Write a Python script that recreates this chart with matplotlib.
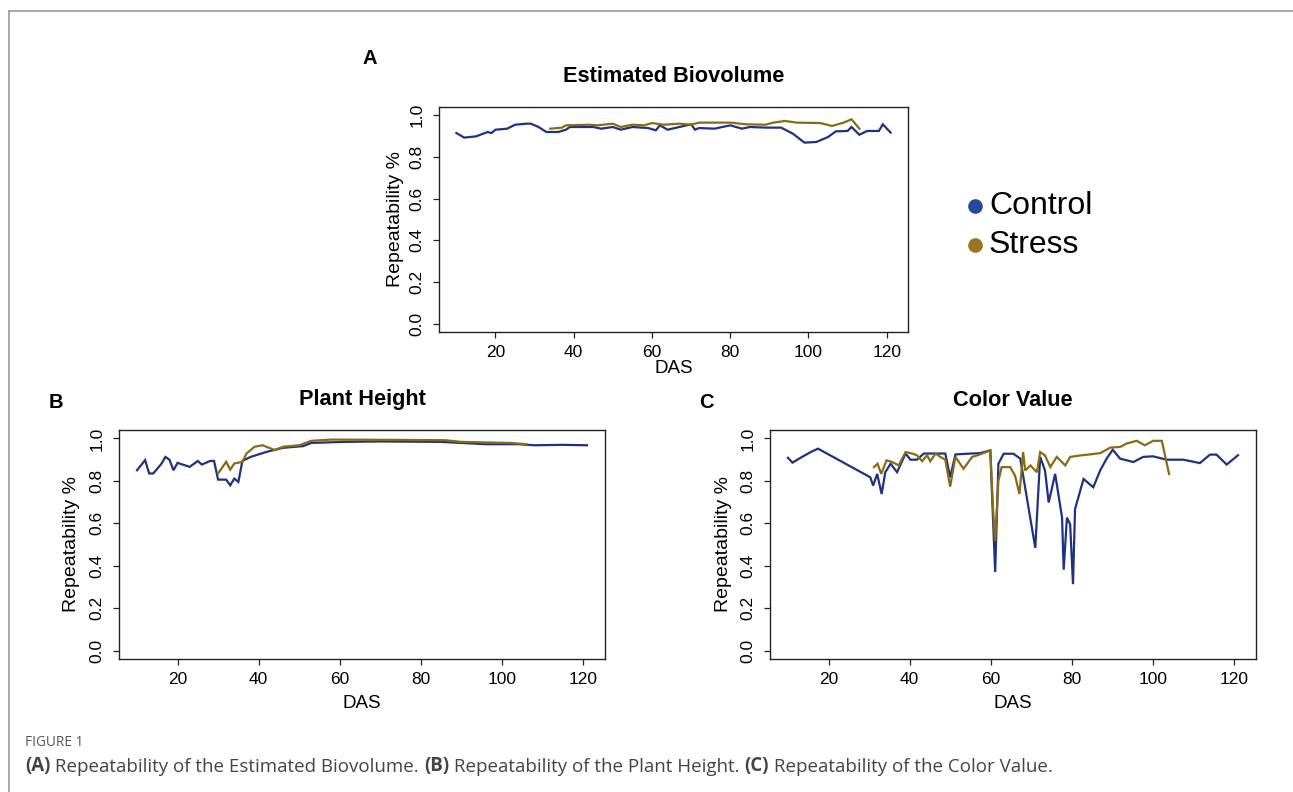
import matplotlib
matplotlib.use("Agg")
import matplotlib.pyplot as plt
from matplotlib.lines import Line2D

# ---------------- data ----------------
# Panel A: Estimated Biovolume
a_ctrl_x = [10, 12, 15, 18, 19, 20, 23, 25, 28, 29, 31, 33, 36, 38, 39, 45, 47, 50, 52, 55,
            59, 61, 62, 64, 67, 70, 71, 72, 76, 80, 83, 85, 89, 93, 96, 99, 102, 105, 107, 110,
            111, 113, 115, 118, 119, 121]
a_ctrl_y = [.915, .893, .899, .920, .915, .931, .936, .955, .960, .960, .944, .920, .920, .931, .944,
            .944, .936, .944, .931, .944, .939, .928, .952, .931, .944, .957, .931, .939, .936, .952,
            .936, .944, .941, .941, .912, .869, .872, .896, .923, .925, .944, .907, .925, .925, .957,
            .917]
a_str_x = [34, 37, 38, 44, 46, 50, 52, 55, 58, 60, 63, 67, 70, 72, 80, 84, 89, 91, 94, 97,
           103, 106, 109, 111, 113]
a_str_y = [.936, .941, .952, .955, .952, .960, .944, .955, .952, .963, .955, .960, .955, .965, .965,
           .957, .955, .965, .973, .965, .963, .949, .965, .981, .936]

# Panel B: Plant Height
b_ctrl_x = [10, 12, 13, 14, 16, 17, 18, 19, 20, 23, 25, 26, 28, 29, 30, 32, 33, 34, 35, 36,
            38, 42, 46, 51, 53, 61, 70, 85, 96, 104, 108, 115, 121]
b_ctrl_y = [.850, .898, .835, .835, .880, .913, .900, .850, .885, .866, .894, .877, .894, .894, .806,
            .806, .779, .811, .795, .894, .913, .937, .956, .964, .979, .984, .986, .984, .973, .973,
            .968, .970, .968]
b_str_x = [30, 32, 33, 34, 36, 37, 39, 41, 44, 46, 50, 53, 58, 86, 90, 102, 106]
b_str_y = [.835, .890, .853, .882, .890, .929, .961, .968, .945, .961, .968, .989, .995, .992, .984,
           .979, .973]

# Panel C: Color Value
c_ctrl_x = [10, 11.1, 13.1, 15.6, 17.4, 30.3, 31.0, 32.0, 33.1, 34.0, 35.3, 36.9, 39.0, 40.2, 41.8,
            43.5, 45.9, 48.8, 50.0, 51.3, 54.2, 57.4, 59.9, 61.1, 61.9, 63.2, 65.6, 67.3, 68.9, 71.0,
            72.2, 73.4, 74.3, 75.9, 77.6, 78.0, 78.8, 79.6, 80.3, 80.8, 82.9, 85.3, 87.0, 88.6, 90.1,
            91.9, 95.2, 97.6, 100.0, 103.4, 107.5, 111.6, 114.1, 115.7, 118.2, 121]
c_ctrl_y = [.909, .886, .909, .936, .952, .817, .778, .833, .738, .841, .881, .841, .929, .900, .900,
            .929, .929, .929, .817, .925, .928, .931, .944, .370, .881, .928, .928, .905, .722, .484,
            .913, .849, .698, .833, .627, .381, .627, .595, .313, .667, .809, .770, .849, .905, .947,
            .905, .889, .913, .916, .900, .900, .884, .924, .924, .877, .921]
c_str_x = [31.2, 32.1, 33.0, 34.3, 35.7, 37.3, 39.0, 40.6, 41.8, 43.1, 44.3, 45.1, 46.4, 47.6, 48.8,
           50.0, 51.3, 53.3, 55.4, 57.4, 59.9, 60.6, 61.1, 61.9, 62.7, 64.8, 66.0, 67.1, 68.0, 68.5,
           69.8, 71.4, 72.2, 73.4, 74.7, 76.3, 78.4, 79.6, 82.1, 84.5, 87.0, 89.5, 91.9, 93.5, 96.0,
           98.0, 100.1, 102.2, 104.0]
c_str_y = [.865, .881, .833, .897, .889, .873, .936, .929, .921, .893, .921, .893, .929, .913, .900,
           .773, .913, .857, .913, .925, .944, .659, .516, .801, .865, .865, .825, .738, .936, .849,
           .873, .841, .936, .920, .865, .913, .873, .913, .920, .925, .931, .957, .960, .976, .989,
           .968, .989, .989, .833]

titles = ["Estimated Biovolume", "Plant Height", "Color Value"]
panel_letters = ["A", "B", "C"]
series_names = ["Control", "Stress"]
x_ticks = [20, 40, 60, 80, 100, 120]
y_ticks = [0.0, 0.2, 0.4, 0.6, 0.8, 1.0]
caption_head = "FIGURE 1"
caption_parts = [("(A)", True), (" Repeatability of the Estimated Biovolume. ", False),
                 ("(B)", True), (" Repeatability of the Plant Height. ", False),
                 ("(C)", True), (" Repeatability of the Color Value.", False)]

# ---------------- style ----------------
CTRL = "#1f327f"
STR = "#8a6a14"
CTRL_DOT = "#27479a"
STR_DOT = "#9b7322"
FONT = "Liberation Sans"

W, H = 1293, 792
fig = plt.figure(figsize=(W / 100, H / 100), dpi=100)


def box(l, t, r, b):
    return [l / W, 1 - b / H, (r - l) / W, (b - t) / H]


def rlim(vals):
    lo, hi = min(vals), max(vals)
    p = 0.04 * (hi - lo)
    return lo - p, hi + p


specs = [
    (box(439, 107, 908, 332), a_ctrl_x, a_ctrl_y, a_str_x, a_str_y, 37, 44),
    (box(119, 430, 605, 659), b_ctrl_x, b_ctrl_y, b_str_x, b_str_y, 45, 47),
    (box(770, 430, 1256, 659), c_ctrl_x, c_ctrl_y, c_str_x, c_str_y, 45, 47),
]

axes = []
for i, (rect, cx, cy, sx, sy, xlab_off, ylab_off) in enumerate(specs):
    ax = fig.add_axes(rect)
    axes.append(ax)
    ax.plot(cx, cy, color=CTRL, lw=1.6, solid_joinstyle="miter")
    ax.plot(sx, sy, color=STR, lw=1.6, solid_joinstyle="miter")
    ax.set_xlim(*rlim(cx))
    ax.set_ylim(-0.04, 1.04)
    ax.set_xticks(x_ticks)
    ax.set_xticklabels([str(v) for v in x_ticks], fontsize=12.5, family=FONT)
    ax.set_yticks(y_ticks)
    ax.set_yticklabels([f"{v:.1f}" for v in y_ticks], fontsize=12.5, family=FONT,
                       rotation=90, va="center")
    ax.tick_params(direction="out", length=4.5, width=0.9, color="#222222", pad=5)
    ax.tick_params(axis="y", pad=6)
    for s in ax.spines.values():
        s.set_color("#222222")
        s.set_linewidth(1.0)
    hpx = rect[3] * H
    wpx = rect[2] * W
    ax.set_xlabel("DAS", fontsize=13.5, family=FONT)
    ax.xaxis.set_label_coords(0.5, -xlab_off / hpx)
    ax.xaxis.label.set_va("center")
    ax.set_ylabel("Repeatability %", fontsize=14, family=FONT)
    ax.yaxis.set_label_coords(-ylab_off / wpx, 0.5)
    ax.yaxis.label.set_va("center")
    ax.text(0.5, 1 + 30 / hpx, titles[i], transform=ax.transAxes, ha="center", va="center",
            fontsize=15.7, fontweight="bold", family=FONT)

# panel letters
for (lx, ly), letter in zip([(370, 58), (56, 402), (706, 402)], panel_letters):
    fig.text(lx / W, 1 - ly / H, letter, ha="center", va="center", fontsize=14.5,
             fontweight="bold", family=FONT)

# legend
for (dy, col, name) in [(206, CTRL_DOT, series_names[0]), (245, STR_DOT, series_names[1])]:
    fig.add_artist(Line2D([975 / W], [1 - dy / H], marker="o", markersize=9.5, color=col,
                          transform=fig.transFigure))
    fig.text(989 / W, 1 - dy / H, name, ha="left", va="center", fontsize=23, family=FONT)

# frame lines
fig.add_artist(Line2D([9 / W, 1.0], [1 - 11 / H, 1 - 11 / H], color="#9a9a9a", lw=1.2,
                      transform=fig.transFigure))
fig.add_artist(Line2D([9 / W, 9 / W], [1 - 11 / H, 0], color="#9a9a9a", lw=1.2,
                      transform=fig.transFigure))

# caption
fig.text(25 / W, 1 - 742 / H, caption_head, ha="left", va="center", fontsize=9.8,
         family="Open Sans", color="#555555")
cap_size = 13.5
first_txt, first_bold = caption_parts[0]
prev = fig.text(25 / W, 1 - 776 / H, first_txt, ha="left", va="bottom", fontsize=cap_size,
                family="Open Sans", color="#444444",
                fontweight="bold" if first_bold else "normal")
for txt, bold in caption_parts[1:]:
    prev = axes[0].annotate(txt, xy=(1, 0), xycoords=prev, ha="left", va="bottom",
                            fontsize=cap_size, family="Open Sans", color="#444444",
                            fontweight="bold" if bold else "normal", annotation_clip=False)

fig.savefig("out.png", dpi=100)
